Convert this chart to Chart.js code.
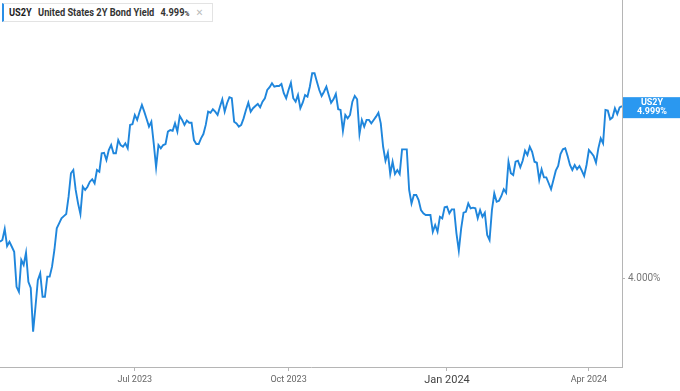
<!DOCTYPE html>
<html>
<head>
<meta charset="utf-8">
<script src="https://cdn.jsdelivr.net/npm/chart.js@4.4.1/dist/chart.umd.min.js"></script>
<style>
  body { margin: 0; background: #fff; }
  #wrap { position: relative; width: 680px; height: 391px; }
  #head {
    position: absolute; left: 2px; top: 3px; width: 203px; height: 17px; padding: 0 0 0 5px;
    border: 1px solid #e3e3e3; border-left: 2px solid #2a8fe6; background: #fff;
    font-family: Roboto, sans-serif; font-size: 10.4px;
    line-height: 17px; white-space: nowrap; color: #333; overflow: hidden;
  }
  #head .txt { display: inline-block; transform: scaleX(0.89); transform-origin: left center; }
  #head b { font-weight: bold; }
  #head .sym { color: #1c1c1c; margin-right: 7px; }
  #head .name { margin-right: 7px; }
  #head .pct { font-size: 7.5px; }
  #head .x { color: #bbb; margin-left: 7px; font-family: "DejaVu Sans", sans-serif; font-size: 10px; }
</style>
</head>
<body>
<div id="wrap">
  <canvas id="bondChart" width="680" height="391"></canvas>
  <div id="head"><span class="txt"><b class="sym">US2Y</b><b class="name">United States 2Y Bond Yield</b><b>4.999<span class="pct">%</span></b><span class="x">✕</span></span></div>
</div>
<script>
// US 2Y yield, daily closes (%)
var yields = [
  4.211, 4.221, 4.285, 4.186, 4.211, 4.182, 4.153, 3.949, 3.920, 4.105,
  4.076, 4.147, 3.978, 3.942, 3.688, 3.833, 3.988, 4.027, 3.891, 3.891,
  4.008, 4.008, 4.066, 4.163, 4.289, 4.318, 4.347, 4.360, 4.372, 4.473,
  4.609, 4.628, 4.512, 4.434, 4.372, 4.531, 4.512, 4.531, 4.560, 4.574,
  4.551, 4.628, 4.618, 4.725, 4.728, 4.686, 4.744, 4.773, 4.725, 4.725,
  4.802, 4.773, 4.763, 4.783, 4.754, 4.890, 4.894, 4.948, 4.919, 4.965,
  5.006, 4.967, 4.924, 4.880, 4.909, 4.783, 4.644, 4.773, 4.754, 4.773,
  4.779, 4.851, 4.860, 4.856, 4.899, 4.851, 4.942, 4.919, 4.890, 4.915,
  4.903, 4.903, 4.802, 4.779, 4.779, 4.812, 4.837, 4.890, 4.967, 4.961,
  4.981, 4.967, 4.948, 4.996, 5.039, 4.967, 5.016, 5.051, 5.045, 4.909,
  4.899, 4.880, 4.890, 4.928, 4.977, 5.019, 4.967, 4.987, 5.000, 5.012,
  4.992, 5.025, 5.045, 5.093, 5.109, 5.132, 5.112, 5.116, 5.116, 5.128,
  5.074, 5.045, 5.093, 5.135, 5.045, 5.025, 5.064, 4.987, 5.019, 5.064,
  5.054, 5.112, 5.190, 5.190, 5.141, 5.093, 5.058, 5.083, 5.112, 5.064,
  5.019, 5.039, 5.070, 4.981, 4.977, 4.855, 4.948, 4.928, 4.948, 5.025,
  5.058, 5.039, 4.837, 4.919, 4.880, 4.919, 4.919, 4.899, 4.919, 4.938,
  4.961, 4.899, 4.763, 4.682, 4.728, 4.605, 4.676, 4.605, 4.628, 4.605,
  4.748, 4.748, 4.748, 4.512, 4.434, 4.483, 4.483, 4.453, 4.395, 4.376,
  4.366, 4.366, 4.366, 4.269, 4.308, 4.269, 4.356, 4.347, 4.411, 4.415,
  4.376, 4.399, 4.399, 4.260, 4.159, 4.289, 4.380, 4.385, 4.434, 4.405,
  4.409, 4.405, 4.347, 4.395, 4.356, 4.380, 4.250, 4.221, 4.395, 4.492,
  4.444, 4.449, 4.477, 4.516, 4.496, 4.676, 4.609, 4.599, 4.676, 4.682,
  4.644, 4.682, 4.740, 4.715, 4.763, 4.734, 4.676, 4.670, 4.570, 4.632,
  4.585, 4.585, 4.551, 4.516, 4.570, 4.624, 4.651, 4.721, 4.748, 4.754,
  4.709, 4.657, 4.628, 4.657, 4.632, 4.651, 4.624, 4.593, 4.657, 4.744,
  4.728, 4.709, 4.670, 4.754, 4.812, 4.783, 4.977, 4.973, 4.923, 4.934,
  4.987, 4.953, 4.992, 4.999
];

// x axis labels and the trading-day index where each month starts
var tickLabels = ['Jul 2023', 'Oct 2023', 'Jan 2024', 'Apr 2024'];
var tickPos = [57, 122, 189, 249];
var yearTick = 189;

// price axis
var yTicks = [4.0];
var yMin = 3.483;
var yMax = 5.616;

var lineColor = '#1f86dc';
var badgeColor = '#2a98f0';
var font = 'Roboto, sans-serif';

var points = yields.map(function (v, i) { return { x: i, y: v }; });

// last value tag on the right axis
var lastTag = {
    id: 'lastTag',
    afterDraw: function (chart) {
        var c = chart.ctx;
        var area = chart.chartArea;
        var last = yields[yields.length - 1];
        var y = chart.scales.y.getPixelForValue(last);
        c.save();
        c.fillStyle = badgeColor;
        c.fillRect(area.right + 1, y - 9, chart.width - area.right - 1, 21);
        c.fillStyle = '#fff';
        c.font = 'bold 9px ' + font;
        c.textAlign = 'center';
        c.textBaseline = 'middle';
        var cx = (area.right + chart.width) / 2 + 1;
        c.fillText('US2Y', cx, y - 3.5);
        c.fillText(last.toFixed(3) + '%', cx, y + 6);
        c.restore();
    }
};

var ctx = document.getElementById('bondChart').getContext('2d');
var bondChart = new Chart(ctx, {
    type: 'line',
    data: {
        datasets: [{
            label: 'US2Y',
            data: points,
            borderColor: lineColor,
            borderWidth: 1.9,
            pointRadius: 0,
            tension: 0,
            fill: false
        }]
    },
    options: {
        responsive: false,
        animation: false,
        layout: { padding: 0 },
        plugins: {
            legend: { display: false },
            tooltip: { enabled: false }
        },
        scales: {
            x: {
                type: 'linear',
                min: 0,
                max: yields.length - 1,
                afterBuildTicks: function (scale) {
                    scale.ticks = tickPos.map(function (p) { return { value: p }; });
                },
                afterFit: function (scale) {
                    scale.height = 24;
                    scale.paddingLeft = 0;
                    scale.paddingRight = 0;
                },
                ticks: {
                    autoSkip: false,
                    maxRotation: 0,
                    padding: 3,
                    callback: function (v) { return tickLabels[tickPos.indexOf(v)]; },
                    color: function (c) { return c.tick && c.tick.value === yearTick ? '#444' : '#666'; },
                    font: function (c) {
                        return c.tick && c.tick.value === yearTick
                            ? { family: font, size: 11 }
                            : { family: font, size: 9 };
                    }
                },
                grid: { drawOnChartArea: false, tickLength: 4, color: '#b5b5b5' },
                border: { display: true, color: '#b5b5b5' }
            },
            y: {
                type: 'linear',
                position: 'right',
                min: yMin,
                max: yMax,
                afterBuildTicks: function (scale) {
                    scale.ticks = yTicks.map(function (v) { return { value: v }; });
                },
                afterFit: function (scale) {
                    scale.width = 58;
                    scale.paddingTop = 0;
                    scale.paddingBottom = 0;
                },
                ticks: {
                    padding: 3,
                    color: '#777',
                    font: { family: font, size: 10 },
                    callback: function (v) { return v.toFixed(3) + '%'; }
                },
                grid: { drawOnChartArea: false, tickLength: 3, color: '#b5b5b5' },
                border: { display: true, color: '#b5b5b5' }
            }
        }
    },
    plugins: [lastTag]
});
</script>
</body>
</html>
